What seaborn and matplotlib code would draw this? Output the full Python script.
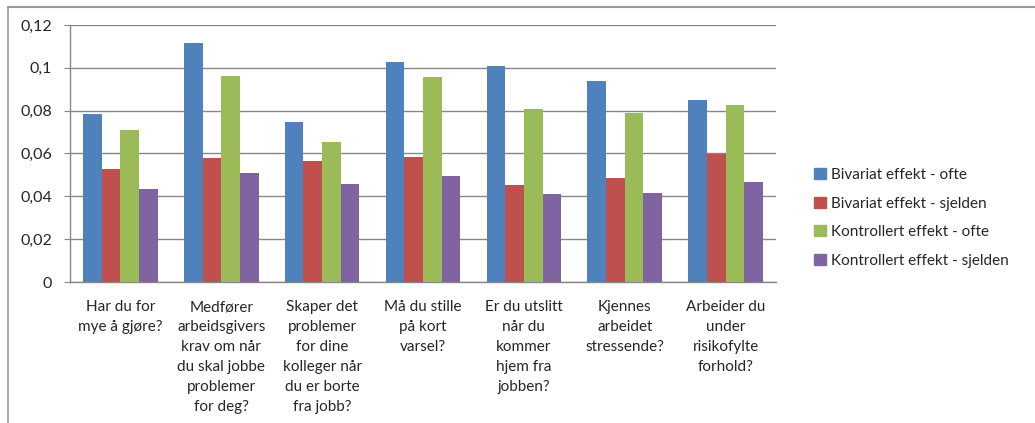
"""
Grouped bar chart: bivariate vs controlled effects, often/seldom.
"""

#Libraries
import numpy as np
import pandas as pd
import matplotlib
matplotlib.use("Agg")
import matplotlib.pyplot as plt
import seaborn as sns
from matplotlib.lines import Line2D
from matplotlib.ticker import FuncFormatter

#Data.
questions = [
    "Har du for\nmye å gjøre?",
    "Medfører\narbeidsgivers\nkrav om når\ndu skal jobbe\nproblemer\nfor deg?",
    "Skaper det\nproblemer\nfor dine\nkolleger når\ndu er borte\nfra jobb?",
    "Må du stille\npå kort\nvarsel?",
    "Er du utslitt\nnår du\nkommer\nhjem fra\njobben?",
    "Kjennes\narbeidet\nstressende?",
    "Arbeider du\nunder\nrisikofylte\nforhold?",
]
series_names = [
    "Bivariat effekt - ofte",
    "Bivariat effekt - sjelden",
    "Kontrollert effekt - ofte",
    "Kontrollert effekt - sjelden",
]
bivariat_ofte = [0.0784, 0.1117, 0.0749, 0.1027, 0.1009, 0.0938, 0.0850]
bivariat_sjelden = [0.0529, 0.0578, 0.0565, 0.0584, 0.0453, 0.0487, 0.0596]
kontrollert_ofte = [0.0708, 0.0962, 0.0654, 0.0957, 0.0808, 0.0789, 0.0826]
kontrollert_sjelden = [0.0436, 0.0507, 0.0459, 0.0495, 0.0411, 0.0417, 0.0468]
y_ticks = [0, 0.02, 0.04, 0.06, 0.08, 0.1, 0.12]

colours = ["#4F81BD", "#C0504D", "#9BBB59", "#8064A2"]

#Long format table for seaborn.
df = pd.DataFrame({
    "question": questions * 4,
    "series": np.repeat(series_names, len(questions)),
    "value": bivariat_ofte + bivariat_sjelden + kontrollert_ofte + kontrollert_sjelden,
})

sns.set_style("white")
plt.rcParams["font.family"] = ["Lato", "DejaVu Sans"]

fig = plt.figure(figsize=(10.35, 4.23), dpi=100)
ax = fig.add_axes([70 / 1035, 141 / 423, 706 / 1035, 257 / 423])

sns.barplot(data=df, x="question", y="value", hue="series", palette=colours, saturation=1,
            width=0.74, linewidth=0, ax=ax, legend=False, zorder=3)

grid_col = "#878787"
ax.set_ylim(0, 0.12)
ax.set_xlim(-0.5, len(questions) - 0.5)
ax.set_yticks(y_ticks)
ax.yaxis.set_major_formatter(FuncFormatter(lambda v, p: ("%g" % round(v, 2)).replace(".", ",")))
ax.yaxis.grid(True, color=grid_col, linewidth=1, zorder=0)
ax.set_axisbelow(True)

#Category boundary ticks as minor ticks, labels on the centres.
ax.set_xticks(np.arange(-0.5, len(questions), 1), minor=True)
ax.tick_params(axis="x", which="major", length=0, pad=13, labelsize=11)
ax.tick_params(axis="x", which="minor", length=4, color=grid_col, direction="out")
ax.tick_params(axis="y", length=4, color=grid_col, direction="out", pad=9, labelsize=11.5, left=True)
for lbl in ax.get_xticklabels():
    lbl.set_linespacing(1.55)

for side in ["top", "right"]:
    ax.spines[side].set_visible(False)
for side in ["left", "bottom"]:
    ax.spines[side].set_color(grid_col)
    ax.spines[side].set_linewidth(1)
ax.set_xlabel("")
ax.set_ylabel("")

#Legend on the right.
handles = [plt.Rectangle((0, 0), 1, 1, color=c) for c in colours]
fig.legend(handles, series_names, loc="upper left", bbox_to_anchor=(808 / 1035, 1 - 162 / 423),
           frameon=False, fontsize=11, handlelength=0.75, handleheight=0.75,
           handletextpad=0.35, labelspacing=0.95, borderaxespad=0)

#Chart frame (left and top edges only).
fig.add_artist(Line2D([7.5 / 1035, 7.5 / 1035], [0, 1 - 7 / 423], transform=fig.transFigure,
                      color="#9a9a9a", linewidth=1.2))
fig.add_artist(Line2D([7.5 / 1035, 1], [1 - 7 / 423, 1 - 7 / 423], transform=fig.transFigure,
                      color="#9a9a9a", linewidth=1.5))

fig.savefig("out.png", dpi=100)
